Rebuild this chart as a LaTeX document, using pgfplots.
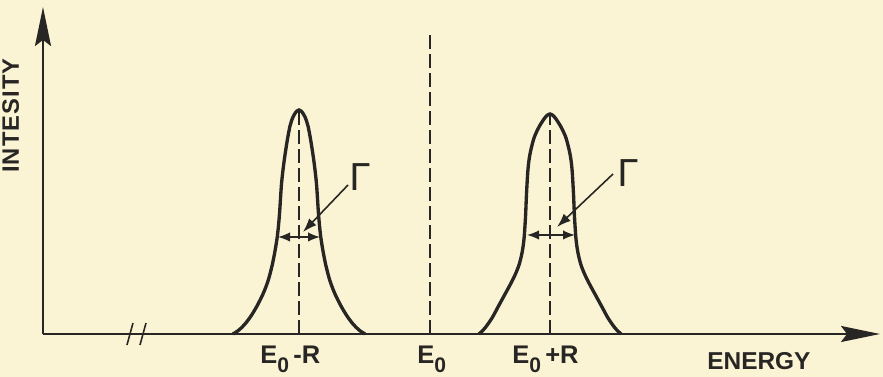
\documentclass[border=0pt]{standalone}
\usepackage{pgfplots}
\pgfplotsset{compat=1.18}
\usepackage{fontspec}
\setmainfont{Liberation Sans}
\newfontfamily\gfont{DejaVu Sans}
\usetikzlibrary{arrows.meta}
\definecolor{bgc}{RGB}{251,244,212}
\definecolor{ink}{RGB}{40,38,36}
\newcommand{\Ez}{E\raisebox{-0.6ex}{\fontsize{12}{12}\selectfont 0}}
\begin{document}
\begin{tikzpicture}
\path[fill=bgc, use as bounding box] (-0.86cm,-0.86cm) rectangle (16.80cm,6.68cm);
\begin{axis}[
  at={(0,0)}, anchor=origin,
  scale only axis,
  width=16.74cm, height=6.54cm,
  xmin=0, xmax=837, ymin=0, ymax=327,
  axis lines=left,
  axis line style={ink, line width=1.2pt, -{Stealth[length=0.78cm,width=0.32cm,inset=0.12cm]}},
  ticks=none,
  clip=false,
]
% peak 1 (E0 - R)
\addplot[ink, line width=1.9pt, smooth, tension=0.5] coordinates {
(190,0) (196,4) (202,10) (208,18) (214,28) (220,40) (225,53) (229,68) (232,83) (234.5,99) (236.5,120) (238.5,150) (241,172) (244,192) (247,208) (250,217) (253,222) (256,224)
(259,222) (262,217) (265,208) (268,192) (271,172) (273.5,150) (275.5,120) (277.5,99) (280,83) (283,68) (287,53) (292,40) (298,28) (304,18) (310,10) (316,4) (322,0)};
% peak 2 (E0 + R)
\addplot[ink, line width=1.9pt, smooth, tension=0.5] coordinates {
(436,0) (442,6) (449,16) (455,27) (461,38) (467,49) (472,59) (476,69) (479,81) (481,95) (482.5,117) (483.5,140) (485,165) (487,180) (491,196) (496,207) (501,215) (504,218.5) (507,220)
(510,218.5) (513,215) (518,207) (523,196) (527,180) (529,165) (530.5,140) (531.5,117) (533,95) (535,81) (538,69) (542,59) (547,49) (553,38) (559,27) (565,16) (572,6) (578,0)};
% dashed centre lines
\addplot[ink, line width=1.0pt, dash pattern=on 0.28cm off 0.1cm] coordinates {(256,0) (256,224)};
\addplot[ink, line width=1.0pt, dash pattern=on 0.28cm off 0.1cm] coordinates {(507,0) (507,220)};
\addplot[ink, line width=1.0pt, dash pattern=on 0.28cm off 0.1cm] coordinates {(387,0) (387,302)};
% width arrows
\addplot[ink, line width=0.9pt, {Latex[length=0.24cm,width=0.19cm]}-{Latex[length=0.24cm,width=0.19cm]}] coordinates {(235,97) (277,97)};
\addplot[ink, line width=0.9pt, {Latex[length=0.24cm,width=0.19cm]}-{Latex[length=0.24cm,width=0.19cm]}] coordinates {(484,99) (532,99)};
% Gamma pointers
\addplot[ink, line width=0.9pt, -{Latex[length=0.28cm,width=0.2cm]}] coordinates {(305,149) (260,102)};
\addplot[ink, line width=0.9pt, -{Latex[length=0.28cm,width=0.2cm]}] coordinates {(570,160) (514,107)};
% axis break marks
\addplot[ink, line width=0.9pt] coordinates {(84,-11) (90,11)};
\addplot[ink, line width=0.9pt] coordinates {(97,-11) (103,11)};
% labels
\node[ink, font=\gfont\fontsize{21}{21}\selectfont] at (axis cs:317,157) {Γ};
\node[ink, font=\gfont\fontsize{21}{21}\selectfont] at (axis cs:585,161) {Γ};
\node[ink, anchor=base west, inner sep=0pt, font=\fontsize{14.5}{15}\selectfont\bfseries] at (axis cs:217,-30) {\Ez\,-R};
\node[ink, anchor=base west, inner sep=0pt, font=\fontsize{14.5}{15}\selectfont\bfseries] at (axis cs:374,-30) {\Ez};
\node[ink, anchor=base west, inner sep=0pt, font=\fontsize{14.5}{15}\selectfont\bfseries] at (axis cs:469,-30) {\Ez\,+R};
\node[ink, anchor=base west, inner sep=0pt, font=\fontsize{13.9}{14}\selectfont\bfseries] at (axis cs:664,-36) {ENERGY};
\node[ink, anchor=base west, inner sep=0pt, rotate=90, font=\fontsize{13.5}{14}\selectfont\bfseries] at (axis cs:-24,161) {I\kern0.6pt N\kern0.6pt T\kern0.6pt E\kern0.6pt S\kern0.6pt I\kern0.6pt T\kern0.6pt Y};
\end{axis}
\end{tikzpicture}
\end{document}
